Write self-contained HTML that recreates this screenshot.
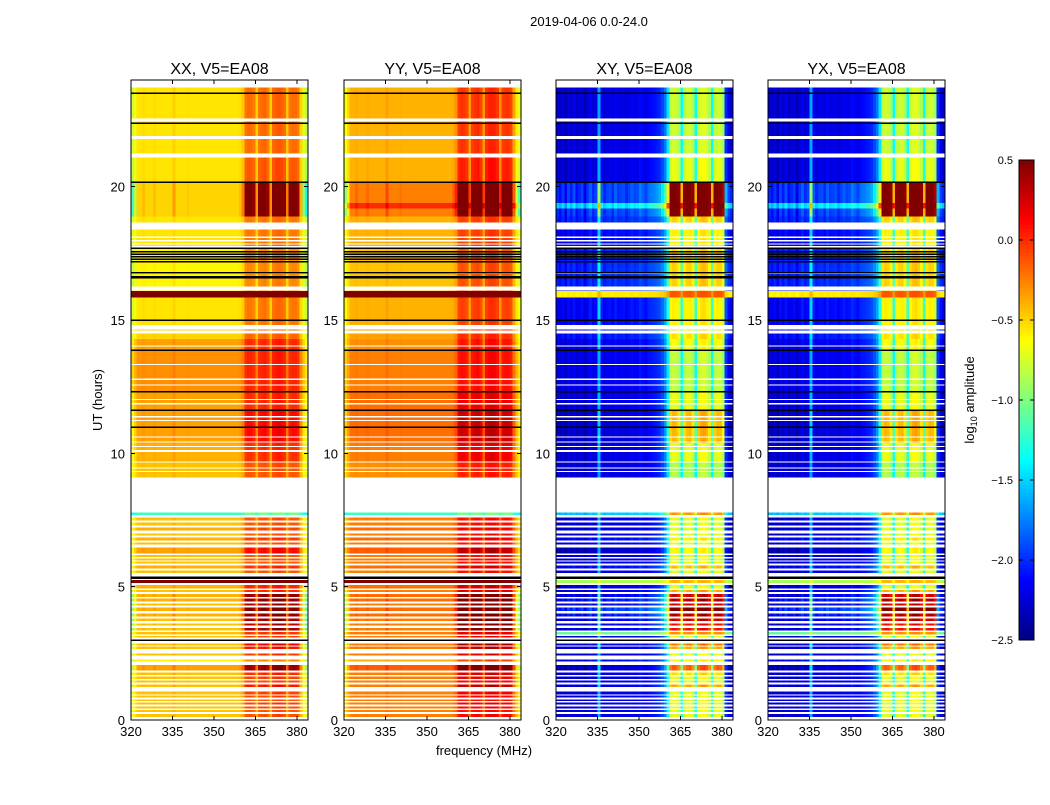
<!DOCTYPE html>
<html><head><meta charset="utf-8">
<style>
body{margin:0;background:#fff;font-family:"Liberation Sans",sans-serif;}
svg text{font-family:"Liberation Sans",sans-serif;}
</style></head>
<body>
<svg id="fig" width="1050" height="800" xmlns="http://www.w3.org/2000/svg" shape-rendering="crispEdges">
<rect x="0" y="0" width="1050" height="800" fill="#fff"/>
<text x="589" y="26" font-size="13" text-anchor="middle">2019-04-06 0.0-24.0</text>
<text x="484" y="755" font-size="13" text-anchor="middle">frequency (MHz)</text>
<text x="0" y="0" font-size="13" text-anchor="middle" transform="translate(102,400) rotate(-90)">UT (hours)</text>
<text x="0" y="0" font-size="13" text-anchor="middle" transform="translate(974,400) rotate(-90)">log<tspan font-size="9" dy="3">10</tspan><tspan dy="-3"> amplitude</tspan></text>
</svg>
<script>
// ---- data ----
const panelTitles = ["XX, V5=EA08","YY, V5=EA08","XY, V5=EA08","YX, V5=EA08"];
const xTicks = [320,335,350,365,380];
const yTicks = [0,5,10,15,20];
const cbTicks = [0.5,0.0,-0.5,-1.0,-1.5,-2.0,-2.5];
// channel profile (1 MHz channels from 320 MHz)
const parProfile = [-0.2,-0.1,0,0,0.02,0,0,0,0.02,0,0,0,0,0,0,0.05,0,0,0,0,0.01,0,0,0,0,0,0,0,0,0,0,0,0,0,0,0,0,0,0,0.02,0.08,0.3,0.33,0.32,0.28,0.06,0.3,0.33,0.35,0.28,0.06,0.33,0.37,0.38,0.36,0.32,0.08,0.3,0.33,0.32,0.28,0.03,-0.15,-0.25];
const crossProfile = [0.05,0,0.08,-0.05,0.1,0.02,0.12,0,0.05,0.1,-0.05,0.08,0.15,0.05,0.1,0.7,0.15,0.05,0.1,0.12,0.05,0.15,0.08,0.1,0.12,0.05,0.1,0.15,0.1,0.12,0.2,0.15,0.1,0.18,0.2,0.22,0.25,0.3,0.4,0.55,0.9,1.55,1.62,1.6,1.5,1.0,1.52,1.6,1.62,1.5,1.0,1.58,1.65,1.68,1.62,1.5,1.0,1.55,1.62,1.6,1.45,0.3,0.1,0.05];
// segments: [t0, t1, XX level, YY level, cross level, parallel bump, cross bump]
const upperSegs = [
[9.1,9.7,-0.45,-0.3,-2.3,1.0,0.9],
[9.7,10.4,-0.4,-0.25,-2.3,1.2,1.0],
[10.4,11.6,-0.35,-0.2,-2.35,1.4,1.2],
[11.6,12.3,-0.35,-0.2,-2.3,1.1,1.0],
[12.3,13.9,-0.3,-0.25,-2.25,1.0,0.9],
[13.9,14.3,-0.35,-0.3,-2.25,1.1,1.0],
[14.3,14.65,-0.5,-0.35,-2.15,1.0,1.0],
[14.65,15.85,-0.55,-0.4,-2.2,1.0,1.0],
[15.85,16.1,0.6,0.6,-0.6,0.3,0.3],
[16.1,17.7,-0.6,-0.45,-2.1,1.0,1.0],
[17.7,18.4,-0.55,-0.4,-2.2,1.0,1.0],
[18.4,18.9,-0.55,-0.4,-2.1,1.0,1.0],
[18.9,19.2,-0.5,-0.25,-2.1,3.3,1.7],
[19.2,19.4,-0.5,0.0,-1.6,3.3,1.7],
[19.4,20.2,-0.5,-0.25,-2.1,3.3,1.7],
[20.2,21.1,-0.55,-0.4,-2.3,1.3,1.0],
[21.1,24,-0.55,-0.4,-2.3,1.1,0.95]
];
const lowerSegs = [
[7.69,7.775,-1.2,-1.2,-1.6,0.5,0.8],[7.5,7.6,-0.45,-0.25,-2.3,1.0,1.0],[7.31,7.4,-0.45,-0.25,-2.3,1.0,1.0],
[7.125,7.225,-0.4,-0.2,-2.3,1.0,1.0],[6.925,7.0,-0.45,-0.25,-2.3,1.0,1.0],[6.75,6.85,-0.4,-0.2,-2.2,1.1,1.0],
[6.59,6.65,-0.45,-0.25,-2.3,1.0,1.0],[6.25,6.46,-0.35,-0.15,-2.4,1.4,1.1],[6.125,6.19,-0.45,-0.25,-2.3,1.0,1.0],
[6.0,6.06,-0.45,-0.25,-2.3,1.0,1.0],[5.875,5.94,-0.45,-0.25,-2.3,1.0,1.0],[5.69,5.79,-0.4,-0.2,-2.2,1.2,1.1],
[5.525,5.6,-0.45,-0.25,-2.3,1.0,1.0],[5.15,5.25,0.6,0.6,-0.9,0.3,0.3],[4.94,5.06,-0.4,-0.2,-2.3,1.3,1.0],
[4.81,4.875,-0.45,-0.25,-2.3,1.4,1.2],[4.625,4.725,-0.4,-0.2,-2.3,2.6,1.6],[4.46,4.55,-0.4,-0.2,-2.2,2.6,1.6],
[4.3,4.375,-0.45,-0.25,-2.3,2.6,1.6],[4.09,4.21,-0.4,-0.2,-2.1,2.8,1.7],[3.9,4.0,-0.4,-0.2,-2.2,2.6,1.6],
[3.725,3.81,-0.45,-0.25,-2.3,2.6,1.6],[3.56,3.625,-0.45,-0.25,-2.3,2.4,1.5],[3.375,3.45,-0.45,-0.25,-2.3,2.6,1.5],
[3.225,3.3,-0.45,-0.25,-1.1,1.3,0.5],[3.1,3.15,-0.45,-0.25,-2.3,1.2,1.0],[2.81,2.875,-0.45,-0.25,-2.3,2.0,1.3],
[2.675,2.75,-0.45,-0.25,-2.3,1.6,1.2],[2.425,2.5,-0.45,-0.25,-2.3,1.3,1.0],[2.2,2.275,-0.6,-0.4,-2.2,1.0,1.0],
[1.875,2.06,-0.35,-0.15,-2.4,2.4,1.4],[1.69,1.79,-0.45,-0.25,-2.3,1.4,1.1],[1.55,1.625,-0.45,-0.25,-2.3,1.2,1.0],
[1.425,1.49,-0.45,-0.25,-2.3,1.1,1.0],[1.24,1.34,-0.45,-0.25,-2.3,1.6,1.2],[0.975,1.06,-0.45,-0.25,-2.3,1.2,1.0],
[0.85,0.91,-0.45,-0.25,-2.3,1.1,1.0],[0.725,0.775,-0.45,-0.25,-2.3,1.0,1.0],[0.59,0.66,-0.45,-0.25,-2.3,1.2,1.0],
[0.44,0.5,-0.45,-0.25,-2.3,1.1,1.0],[0.31,0.375,-0.45,-0.25,-2.3,1.0,1.0],[0.125,0.225,-0.45,-0.25,-2.3,1.1,1.0]
];
// flagged (white) intervals in the upper block
const whiteGaps = [[23.725,24],[22.44,22.56],[21.78,21.9],[21.1,21.25],[18.4,18.65],[18.075,18.125],[17.95,18.0],[17.825,17.875],[17.675,17.775],[16.73,16.78],[16.1,16.25],[14.65,14.81],[14.5,14.6],[14.0,14.05],[13.31,13.35],[12.75,12.8],[12.54,12.58],[12.0,12.04],[11.84,11.88],[11.35,11.4],[11.21,11.25],[10.59,10.63],[10.4,10.44],[10.24,10.28],[10.05,10.13],[9.65,9.69],[9.43,9.46],[9.3,9.34]];
const blackLines = [23.5,22.375,20.16,17.69,17.56,17.47,17.37,17.27,17.19,16.78,16.6,15.0,13.875,12.31,11.625,10.975,5.34,3.0];
const blackWidths = [1.5,1.5,1.5,1.5,1.5,1.5,1.5,1.5,1.5,1.5,2.5,1.5,1.5,1.5,1.5,1.5,2.5,1.5];

// ---- layout ----
const NS = "http://www.w3.org/2000/svg";
const svg = document.getElementById("fig");
const panelX = [131,344,556,768];
const PW = 177, PT = 80, PB = 720;
const fMin = 320, fMax = 384, tMax = 24;
function xs(p,f){return panelX[p] + (f-fMin)/(fMax-fMin)*PW;}
function ys(t){return PB - t/tMax*(PB-PT);}
function clamp(v){return Math.max(0,Math.min(1,v));}
function jet(v){
  const t = clamp((v+2.5)/3.0);
  const r = clamp(1.5-Math.abs(4*t-3)), g = clamp(1.5-Math.abs(4*t-2)), b = clamp(1.5-Math.abs(4*t-1));
  return "rgb("+Math.round(r*255)+","+Math.round(g*255)+","+Math.round(b*255)+")";
}
function mk(tag, attrs, parent){
  const el = document.createElementNS(NS, tag);
  for (const k in attrs) el.setAttribute(k, attrs[k]);
  (parent||svg).appendChild(el);
  return el;
}
const allSegs = upperSegs.concat(lowerSegs);
for (let p=0;p<4;p++){
  const g = mk("g",{});
  
  
  for (const s of allSegs){
    const y1 = ys(s[1]), y0 = ys(s[0]);
    for (let c=0;c<parProfile.length;c++){
      let v;
      if (p===0) v = s[2] + parProfile[c]*s[5];
      else if (p===1) v = s[3] + parProfile[c]*s[5]*1.05;
      else v = s[4] + crossProfile[c]*s[6];
      const x0 = xs(p, fMin+c), x1 = xs(p, fMin+c+1);
      const r = mk("rect",{x:x0.toFixed(2),y:y1.toFixed(2),width:(x1-x0+0.4).toFixed(2),height:(y0-y1+0.3).toFixed(2),fill:jet(v)},g);
      
      
    }
  }
  for (const w of whiteGaps){
    const r = mk("rect",{x:panelX[p],y:ys(w[1]),width:PW,height:ys(w[0])-ys(w[1]),fill:"#fff"},g);
    
    
  }
  for (let i=0;i<blackLines.length;i++){
    const y = ys(blackLines[i]);
    const l = mk("rect",{x:panelX[p],y:(y-blackWidths[i]/2).toFixed(2),width:PW,height:blackWidths[i],fill:"#000"},g);
    
    
  }
  const fr = mk("rect",{x:panelX[p],y:PT,width:PW,height:PB-PT,fill:"none",stroke:"#000","stroke-width":1});
  
  
  const tt = mk("text",{x:panelX[p]+PW/2,y:74,"font-size":16,"text-anchor":"middle"});
  tt.textContent = panelTitles[p];
  
  
  for (const f of xTicks){
    const x = xs(p,f);
    mk("line",{x1:x,x2:x,y1:PB,y2:PB-4,stroke:"#000"});
    mk("line",{x1:x,x2:x,y1:PT,y2:PT+4,stroke:"#000"});
    const t = mk("text",{x:x,y:PB+16,"font-size":13,"text-anchor":"middle"});
    t.textContent = f;
    
    
  }
  for (const h of yTicks){
    const y = ys(h);
    mk("line",{x1:panelX[p],x2:panelX[p]+4,y1:y,y2:y,stroke:"#000"});
    mk("line",{x1:panelX[p]+PW,x2:panelX[p]+PW-4,y1:y,y2:y,stroke:"#000"});
    const t = mk("text",{x:panelX[p]-6,y:y+5,"font-size":13,"text-anchor":"end"});
    t.textContent = h;
    
    
  }
}
// colorbar
const cbX = 1019, cbW = 15, cbT = 160, cbB = 640;
const cbg = mk("g",{});


for (let i=0;i<120;i++){
  const v0 = -2.5 + 3.0*i/120;
  const y1 = cbB - (i+1)/120*(cbB-cbT), y0 = cbB - i/120*(cbB-cbT);
  mk("rect",{x:cbX,y:y1.toFixed(2),width:cbW,height:(y0-y1+0.5).toFixed(2),fill:jet(v0+1.5/120)},cbg);
}
mk("rect",{x:cbX,y:cbT,width:cbW,height:cbB-cbT,fill:"none",stroke:"#000"},cbg);
for (const v of cbTicks){
  const y = cbB - (v+2.5)/3.0*(cbB-cbT);
  mk("line",{x1:cbX,x2:cbX+4,y1:y,y2:y,stroke:"#000"},cbg);
  mk("line",{x1:cbX+cbW-4,x2:cbX+cbW,y1:y,y2:y,stroke:"#000"},cbg);
  const t = mk("text",{x:1013,y:y+4,"font-size":11,"text-anchor":"end"},cbg);
  t.textContent = (v<0?"\u2212":"")+Math.abs(v).toFixed(1);
  
  
}
</script>
</body></html>
